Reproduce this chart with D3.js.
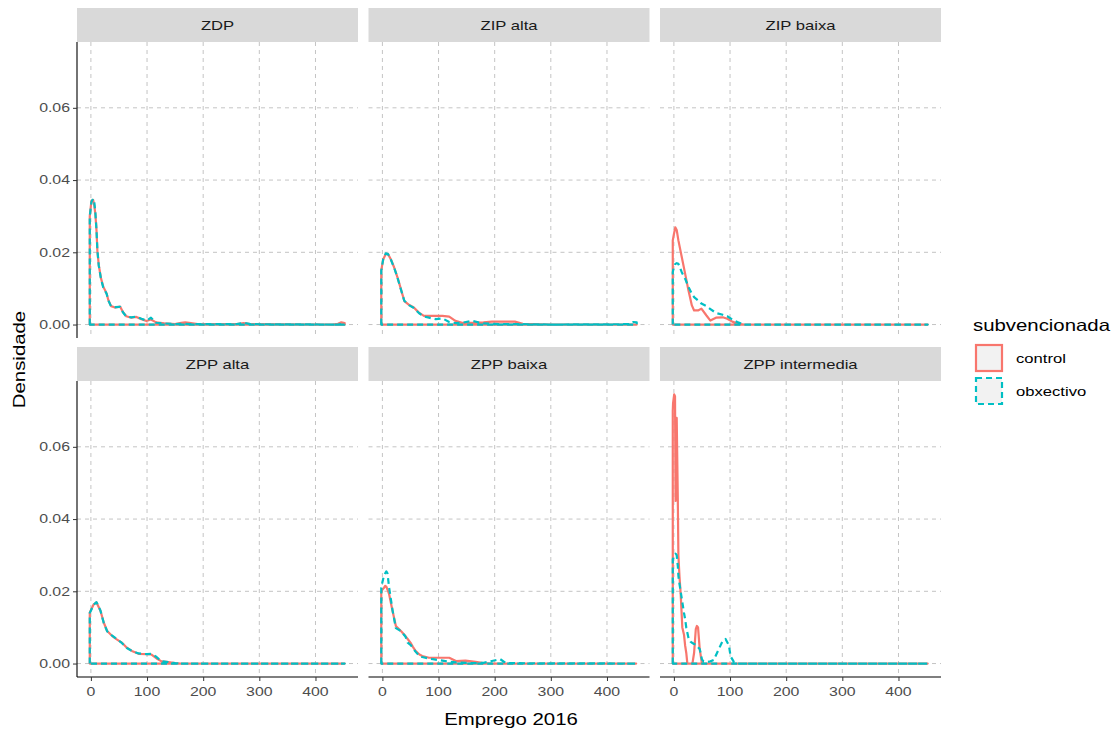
<!DOCTYPE html>
<html><head><meta charset="utf-8">
<script src="https://cdn.jsdelivr.net/npm/d3@7"></script>
<style>body{margin:0;background:#fff}svg{display:block}text{font-family:"Liberation Sans",Arial,sans-serif}</style>
</head><body>
<svg id="c" width="1118" height="733"></svg>
<script>
// ---- data ----
const panels = ["ZDP","ZIP alta","ZIP baixa","ZPP alta","ZPP baixa","ZPP intermedia"];
const groups = ["control","obxectivo"];
const xTicks = [0,100,200,300,400];
const yTicks = [0,0.02,0.04,0.06];
const yTickLabels = ["0.00","0.02","0.04","0.06"];

const zdpX = [-2,1,4,6,8,10,11.5,14,18,22,28,31,36,43,52,57,63,72,81,90,99,107,116,131,150,161,168,175,190,260,272,284,430,440,446,452];
const zdpControl = [0.030,0.0343,0.0345,0.033,0.0305,0.026,0.0205,0.0165,0.0128,0.0105,0.0086,0.0068,0.0051,0.0047,0.005,0.0035,0.0023,0.0019,0.0021,0.0015,0.0010,0.0014,0.0006,0.0003,0.0001,0.0005,0.0006,0.0005,0.0001,0.0001,0.0004,0.0001,0.0,0.0002,0.0006,0.0004];
const zdpObxectivo = [0.030,0.0340,0.0348,0.034,0.031,0.0262,0.0208,0.0163,0.0126,0.0103,0.0085,0.0067,0.0050,0.0048,0.0049,0.0034,0.0022,0.0020,0.0022,0.0016,0.0011,0.0019,0.0005,0.0003,0.0001,0.0002,0.0002,0.0001,0.0001,0.0001,0.0005,0.0001,0.0,0.0,0.0001,0.0001];

const zipAltaX = [-2,1.5,6,10,15,21,27,33,39,48,56,65,74,83,95,107,119,130,142,160,180,195,215,236,250,300,440,447,453];
const zipAltaControl = [0.015,0.0181,0.0195,0.0195,0.0181,0.0158,0.0130,0.0098,0.0065,0.0054,0.0047,0.0033,0.0024,0.0024,0.0024,0.0024,0.0022,0.0010,0.0005,0.0005,0.0006,0.0008,0.0008,0.0008,0.0002,0.0,0.0,0.0,0.0];
const zipAltaObxectivo = [0.015,0.0181,0.0197,0.0195,0.0180,0.0157,0.0129,0.0097,0.0066,0.0053,0.0046,0.0032,0.0022,0.0019,0.0015,0.0017,0.0007,0.0004,0.0005,0.0010,0.0003,0.0002,0.0001,0.0001,0.0001,0.0,0.0001,0.0007,0.0006];

const zipBaixaX = [-2,0,2.5,5,8,14,20,26,32,36,43,49,58,65,75,87,95,104,113,120,125,140,452];
const zipBaixaControl = [0.0233,0.025,0.0269,0.0262,0.0233,0.0187,0.0141,0.0094,0.0053,0.0039,0.0039,0.0044,0.0025,0.0011,0.0019,0.0020,0.0016,0.0008,0.0003,0.0001,0,0,0];
const zipBaixaObxectivo = [0.0145,0.016,0.0168,0.0170,0.0168,0.0145,0.0127,0.0104,0.0085,0.0076,0.0067,0.0058,0.0051,0.0043,0.0032,0.0027,0.0023,0.0014,0.0007,0.0003,0,0,0];

const zppAltaX = [-2,5,10,17,23,29,38,46,55,64,73,85,100,108,117,126,138,150,160,452];
const zppAltaControl = [0.0141,0.0164,0.0169,0.0146,0.0113,0.0090,0.0076,0.0067,0.0058,0.0044,0.0035,0.0027,0.0026,0.0025,0.0014,0.0006,0.0004,0.0001,0,0];
const zppAltaObxectivo = [0.0140,0.0163,0.0170,0.0147,0.0112,0.0089,0.0077,0.0068,0.0057,0.0043,0.0035,0.0028,0.0026,0.0027,0.0018,0.0006,0.0004,0.0001,0,0];

const zppBaixaX = [-2,0,3,5,7,9,12,18,24,33,41,45,50,54,59,66,71,83,90,107,119,131,148,166,180,195,210,220,452];
const zppBaixaControl = [0.0197,0.0205,0.021,0.0215,0.0213,0.0205,0.0192,0.0146,0.0104,0.009,0.0076,0.0068,0.0058,0.0047,0.0035,0.0025,0.0021,0.0016,0.0016,0.0016,0.0016,0.0007,0.0008,0.0005,0.0001,0,0,0,0];
const zppBaixaObxectivo = [0.021,0.0225,0.0245,0.025,0.0255,0.025,0.021,0.0148,0.0098,0.009,0.0075,0.0058,0.0052,0.0044,0.0033,0.0021,0.0018,0.0014,0.0012,0.0008,0.0005,0.0003,0.0002,0.0001,0.0002,0.0007,0.0012,0.0001,0];

const zppIntermediaX = [-2,-1.5,0.5,2,3,5,7,8,10,12,15,18,20,22,24,26,30,33,36,39,41,43,46,50,53,59,65,71,80,86,92,98,101,107,112,452];
const zppIntermediaControl = [0.070,0.072,0.0745,0.074,0.045,0.068,0.045,0.030,0.024,0.0195,0.010,0.008,0.005,0.003,0,0,0,0,0.003,0.0095,0.0104,0.0100,0.0040,0,0,0,0,0,0,0,0,0,0,0,0,0];
const zppIntermediaObxectivo = [0.0289,0.029,0.0295,0.030,0.0304,0.030,0.027,0.0243,0.022,0.020,0.0170,0.0140,0.0123,0.010,0.0085,0.0071,0.006,0.0057,0.0054,0.0053,0.0050,0.0045,0.0040,0.0011,0.0006,0.0004,0.0006,0.0010,0.0040,0.0060,0.0068,0.0050,0.0020,0.0004,0,0];

const series = [
  {x: zdpX, control: zdpControl, obxectivo: zdpObxectivo},
  {x: zipAltaX, control: zipAltaControl, obxectivo: zipAltaObxectivo},
  {x: zipBaixaX, control: zipBaixaControl, obxectivo: zipBaixaObxectivo},
  {x: zppAltaX, control: zppAltaControl, obxectivo: zppAltaObxectivo},
  {x: zppBaixaX, control: zppBaixaControl, obxectivo: zppBaixaObxectivo},
  {x: zppIntermediaX, control: zppIntermediaControl, obxectivo: zppIntermediaObxectivo}
];

// ---- layout ----
const svg = d3.select("#c");
const colLeft = [77, 368.5, 660], panelW = 281;
const rowTop = [42, 381], panelH = 296, stripH = 34;
const colors = {control:"#F8766D", obxectivo:"#00BFC4"};
const dashes = {control:null, obxectivo:"6,4"};
const SX = 1.25;

const allX = series.flatMap(s=>s.x);
const xMin = d3.min(allX), xMax = d3.max(allX);
const xPad = (xMax-xMin)*0.05;
const yMaxD = d3.max(series.flatMap(s=>s.control.concat(s.obxectivo)));
const yPad = yMaxD*0.05;

function txt(g, x, y, s, opts){
  return g.append("text").attr("transform",`translate(${x},${y}) scale(${opts.sx||SX},1)`)
    .attr("text-anchor",opts.anchor||"middle").attr("dominant-baseline","central")
    .attr("font-size",opts.size).attr("fill",opts.fill||"#000").text(s);
}

panels.forEach((name,i)=>{
  const c = i%3, r = Math.floor(i/3);
  const x0 = colLeft[c], y0 = rowTop[r];
  const xs = d3.scaleLinear().domain([xMin-xPad, xMax+xPad]).range([x0, x0+panelW]);
  const ys = d3.scaleLinear().domain([-yPad, yMaxD+yPad]).range([y0+panelH, y0]);
  const g = svg.append("g");
  g.append("rect").attr("x",x0).attr("y",y0-stripH).attr("width",panelW).attr("height",stripH).attr("fill","#d9d9d9");
  txt(g, x0+panelW/2, y0-stripH/2, name, {size:13.3, fill:"#1a1a1a"});
  g.selectAll(".vg").data(xTicks).enter().append("line")
    .attr("x1",d=>xs(d)).attr("x2",d=>xs(d)).attr("y1",y0).attr("y2",y0+panelH)
    .attr("stroke","#c4c4c4").attr("stroke-width",1).attr("stroke-dasharray","4,4");
  g.selectAll(".hg").data(yTicks).enter().append("line")
    .attr("y1",d=>ys(d)).attr("y2",d=>ys(d)).attr("x1",x0).attr("x2",x0+panelW)
    .attr("stroke","#c4c4c4").attr("stroke-width",1).attr("stroke-dasharray","4,4");
  const s = series[i];
  groups.forEach(gr=>{
    const pts = [[s.x[0],0]].concat(s.x.map((xv,k)=>[xv, s[gr][k]])).concat([[s.x[s.x.length-1],0]]);
    g.append("path").attr("d", d3.line().x(d=>xs(d[0])).y(d=>ys(d[1]))(pts)+"Z")
      .attr("fill","none").attr("stroke",colors[gr]).attr("stroke-width",2.2)
      .attr("stroke-dasharray",dashes[gr]).attr("stroke-linejoin","round");
  });
  if(c===0){
    const ax = g.append("g").attr("transform",`translate(${x0},0)`).call(d3.axisLeft(ys).tickValues(yTicks).tickSize(4).tickFormat((d,k)=>yTickLabels[k]));
    ax.select(".domain").attr("d",`M0,${y0}V${y0+panelH}`).attr("stroke","#000").attr("stroke-width",1.1);
    ax.selectAll(".tick line").attr("stroke","#333");
    ax.selectAll(".tick text").remove();
    yTicks.forEach((d,k)=>txt(g, x0-7, ys(d), yTickLabels[k], {size:12.7, fill:"#4d4d4d", anchor:"end"}));
  }
  if(r===1){
    const ax = g.append("g").attr("transform",`translate(0,${y0+panelH})`).call(d3.axisBottom(xs).tickValues(xTicks).tickSize(4));
    ax.select(".domain").attr("d",`M${x0},0H${x0+panelW}`).attr("stroke","#000").attr("stroke-width",1.1);
    ax.selectAll(".tick line").attr("stroke","#333");
    ax.selectAll(".tick text").remove();
    xTicks.forEach(d=>txt(g, xs(d), y0+panelH+15, String(d), {size:12.7, fill:"#4d4d4d"}));
  }
});

txt(svg, 511, 719, "Emprego 2016", {size:16.3});
svg.append("text").attr("transform","translate(19,359.5) rotate(-90) scale(1.25,1)").attr("text-anchor","middle")
  .attr("dominant-baseline","central").attr("font-size",16.3).text("Densidade");

const lg = svg.append("g");
txt(lg, 973, 325, "subvencionada", {size:16.3, anchor:"start"});
groups.forEach((gr,k)=>{
  const ky = 345 + k*33;
  lg.append("rect").attr("x",976).attr("y",ky).attr("width",26).attr("height",26)
    .attr("fill","#f2f2f2").attr("stroke",colors[gr]).attr("stroke-width",2.2).attr("stroke-dasharray",dashes[gr]);
  txt(lg, 1016, ky+13, gr, {size:13.3, anchor:"start"});
});
</script>
</body></html>
